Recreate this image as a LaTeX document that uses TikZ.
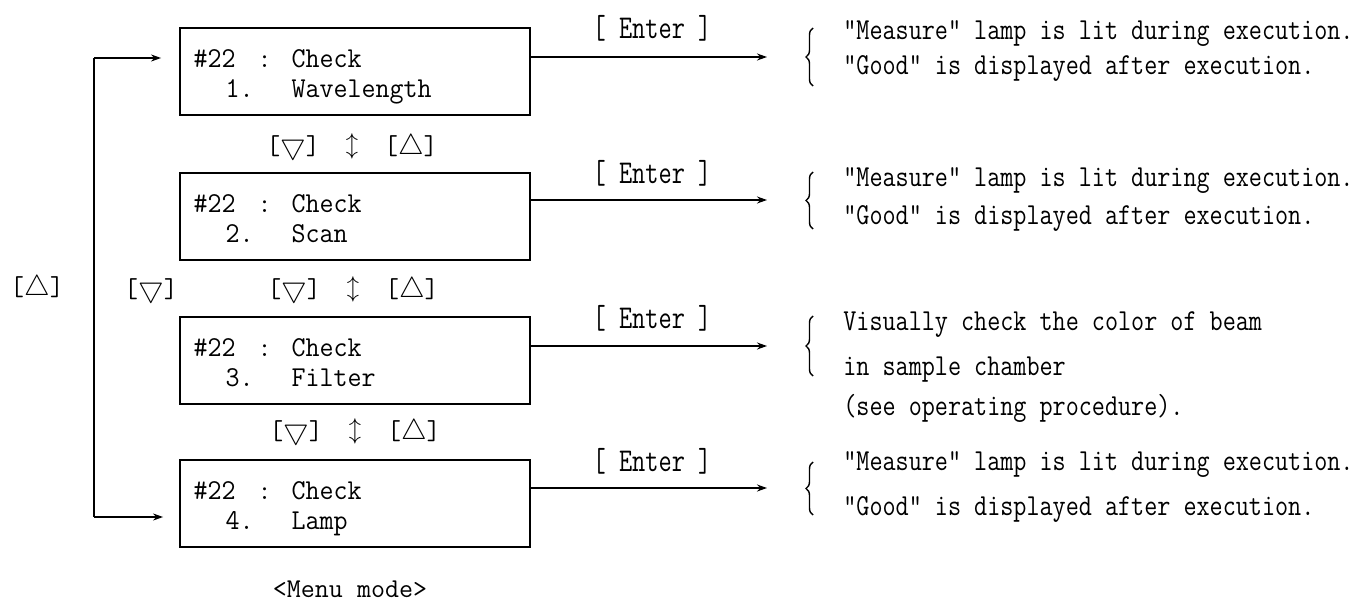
\documentclass[tikz,border=0pt]{standalone}
\usepackage{fontspec}
\usetikzlibrary{arrows.meta,calc,decorations.pathreplacing}
\newcommand{\updnkeys}{[$\bigtriangledown$]\hspace{13pt}\raisebox{1pt}{\scalebox{0.85}{$\updownarrow$}}\hspace{13pt}[$\bigtriangleup$]}
\newcommand{\tallt}[1]{\scalebox{1}[1.2]{#1}}
\newcommand{\boxt}[1]{\scalebox{1}[1.06]{#1}}
\begin{document}
\begin{tikzpicture}[x=0.5pt,y=-0.5pt,
  box/.style={draw, line width=0.9pt, minimum width=175pt, minimum height=43.5pt, inner sep=0pt},
  arr/.style={line width=0.8pt, -{Stealth[length=5pt,width=3.5pt]}},
  ln/.style={line width=0.8pt},
  boxtxt/.style={anchor=base west, inner sep=0pt, font=\fontsize{13.6}{16}\selectfont\ttfamily},
  keytxt/.style={inner sep=0pt, font=\fontsize{13.6}{16}\selectfont\ttfamily},
  entertxt/.style={anchor=base, inner sep=0pt, font=\fontsize{12.8}{16}\selectfont\ttfamily},
  desc/.style={anchor=base west, inner sep=0pt, font=\fontsize{12.7}{15}\selectfont\ttfamily},
  brc/.style={decorate, decoration={brace, amplitude=3.5pt}, line width=0.7pt}
]
\useasboundingbox (0,0) rectangle (1368,604);

% boxes
\node[box] (b1) at (355,71.5) {};
\node[box] (b2) at (355,216.5) {};
\node[box] (b3) at (355,360.5) {};
\node[box] (b4) at (355,503.5) {};

% box texts
\node[boxtxt] (h1) at ($(b1.north west)+(14,40)$) {\boxt{\#22}};
\node[boxtxt] (c1) at ($(b1.north west)+(78,40)$) {:};
\node[boxtxt] (k1) at ($(b1.north west)+(112,40)$) {\boxt{Check}};
\node[boxtxt] (n1) at ($(b1.north west)+(46,70)$) {\boxt{1.}};
\node[boxtxt] (m1) at ($(b1.north west)+(112,70)$) {\boxt{Wavelength}};

\node[boxtxt] (h2) at ($(b2.north west)+(14,40)$) {\boxt{\#22}};
\node[boxtxt] (c2) at ($(b2.north west)+(78,40)$) {:};
\node[boxtxt] (k2) at ($(b2.north west)+(112,40)$) {\boxt{Check}};
\node[boxtxt] (n2) at ($(b2.north west)+(46,70)$) {\boxt{2.}};
\node[boxtxt] (m2) at ($(b2.north west)+(112,70)$) {\boxt{Scan}};

\node[boxtxt] (h3) at ($(b3.north west)+(14,40)$) {\boxt{\#22}};
\node[boxtxt] (c3) at ($(b3.north west)+(78,40)$) {:};
\node[boxtxt] (k3) at ($(b3.north west)+(112,40)$) {\boxt{Check}};
\node[boxtxt] (n3) at ($(b3.north west)+(46,70)$) {\boxt{3.}};
\node[boxtxt] (m3) at ($(b3.north west)+(112,70)$) {\boxt{Filter}};

\node[boxtxt] (h4) at ($(b4.north west)+(14,40)$) {\boxt{\#22}};
\node[boxtxt] (c4) at ($(b4.north west)+(78,40)$) {:};
\node[boxtxt] (k4) at ($(b4.north west)+(112,40)$) {\boxt{Check}};
\node[boxtxt] (n4) at ($(b4.north west)+(46,70)$) {\boxt{4.}};
\node[boxtxt] (m4) at ($(b4.north west)+(112,70)$) {\boxt{Lamp}};

% key labels between boxes
\node[keytxt] (ud1) at (352,147) {\updnkeys};
\node[keytxt] (ud2) at (353,290) {\updnkeys};
\node[keytxt] (ud3) at (355,432) {\updnkeys};
\node[keytxt] (upk) at (37,288) {[$\bigtriangleup$]};
\node[keytxt] (dnk) at (151,290) {[$\bigtriangledown$]};

% left loop
\coordinate (L1) at (94,58);
\coordinate (L4) at (94,517);
\draw[ln] (L1) -- (L4);
\draw[arr, shorten >=9pt] (L1) -- (L1 -| b1.west);
\draw[arr, shorten >=8pt] (L4) -- (L4 -| b4.west);

% right arrows
\coordinate (r1) at (767,57);
\coordinate (r2) at (767,200);
\coordinate (r3) at (767,346);
\coordinate (r4) at (767,488);
\draw[arr] (b1.east |- r1) -- (r1);
\draw[arr] (b2.east |- r2) -- (r2);
\draw[arr] (b3.east |- r3) -- (r3);
\draw[arr] (b4.east |- r4) -- (r4);

% enter labels
\node[entertxt] (e1) at (652,39) {\scalebox{1}[1.3]{[ Enter ]}};
\node[entertxt] (e2) at (652,184) {\scalebox{1}[1.3]{[ Enter ]}};
\node[entertxt] (e3) at (652,328) {\scalebox{1}[1.3]{[ Enter ]}};
\node[entertxt] (e4) at (652,471) {\scalebox{1}[1.3]{[ Enter ]}};

% braces
\draw[brc] (813,86) -- (813,28);
\draw[brc] (813,229) -- (813,172);
\draw[brc] (813,376) -- (813,316);
\draw[brc] (813,515) -- (813,462);

% descriptions
\node[desc] (d1a) at (843,40) {\tallt{"Measure" lamp is lit during execution.}};
\node[desc] (d1b) at (843,75) {\tallt{"Good" is displayed after execution.}};
\node[desc] (d2a) at (843,186) {\tallt{"Measure" lamp is lit during execution.}};
\node[desc] (d2b) at (843,224) {\tallt{"Good" is displayed after execution.}};
\node[desc] (d3a) at (843,330) {\tallt{Visually check the color of beam}};
\node[desc] (d3b) at (843,375) {\tallt{in sample chamber}};
\node[desc] (d3c) at (843,415) {\tallt{(see operating procedure).}};
\node[desc] (d4a) at (843,470) {\tallt{"Measure" lamp is lit during execution.}};
\node[desc] (d4b) at (843,515) {\tallt{"Good" is displayed after execution.}};

% caption
\node[keytxt, anchor=base] (cap) at (350,597) {<Menu mode>};
\end{tikzpicture}
\end{document}
